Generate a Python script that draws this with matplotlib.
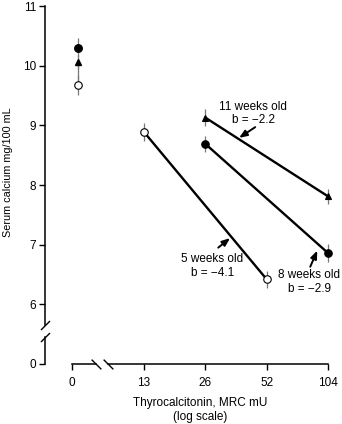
import numpy as np
import matplotlib
matplotlib.use('Agg')
import matplotlib.pyplot as plt
from matplotlib.ticker import FixedLocator, NullLocator
from matplotlib.transforms import ScaledTranslation

plt.rcParams['font.family'] = ['Liberation Sans', 'DejaVu Sans']
plt.rcParams['font.size'] = 8.5

# x ticks, thyrocalcitonin dose (MRC mU)
dose_ticks = [13, 26, 52, 104]

# untreated controls (dose 0): 8, 11 and 5 week old rats
ctrl_ca = [10.30, 10.06, 9.68]
ctrl_err = [0.16, 0.12, 0.17]

# serum calcium (mg/100 mL) after thyrocalcitonin
wk5_dose = [13, 52]
wk5_ca = [8.89, 6.42]
wk5_err = [0.15, 0.14]

wk8_dose = [26, 104]
wk8_ca = [8.69, 6.86]
wk8_err = [0.13, 0.15]

wk11_dose = [26, 104]
wk11_ca = [9.13, 7.81]
wk11_err = [0.14, 0.13]

group_names = ['5 weeks old', '8 weeks old', '11 weeks old']
slopes = [-4.1, -2.9, -2.2]

y_ticks = [0, 6, 7, 8, 9, 10, 11]

# where "0" sits on each broken axis
X_ZERO = 5.77
X_CTRL = 6.17
Y_ZERO = 5.0

ERR_COL = '#777777'

fig = plt.figure(figsize=(3.42, 4.24), dpi=100)
ax = fig.add_axes([72/342, 60/424, 256/342, 358/424])
ax.set_xscale('log', base=2)
ax.set_xlim(X_ZERO, 104)
ax.set_ylim(Y_ZERO, 11)

def group(xs, ys, errs, marker, face, ms):
  ax.errorbar(xs, ys, yerr=errs, fmt='none', ecolor=ERR_COL, elinewidth=0.9,
              capsize=0, zorder=1, clip_on=False)
  ax.plot(xs, ys, ls='none', marker=marker, mfc=face, mec='black', mew=0.8,
          ms=ms, zorder=3, clip_on=False)

# controls share one vertical bar
cx = [X_CTRL]*3
ax.errorbar(cx, ctrl_ca, yerr=ctrl_err, fmt='none', ecolor=ERR_COL,
            elinewidth=0.9, capsize=0, zorder=1)
ax.plot(cx[1:3], ctrl_ca[1:3], color=ERR_COL, lw=0.9, zorder=1)
ax.plot(cx[0], ctrl_ca[0], 'o', mfc='black', mec='black', ms=5.4, zorder=3)
ax.plot(cx[1], ctrl_ca[1], '^', mfc='black', mec='black', ms=4.8, zorder=3)
ax.plot(cx[2], ctrl_ca[2], 'o', mfc='white', mec='black', mew=0.8, ms=5.4,
        zorder=3)

for xs, ys in [(wk5_dose, wk5_ca), (wk8_dose, wk8_ca), (wk11_dose, wk11_ca)]:
  ax.plot(xs, ys, color='black', lw=1.7, zorder=2, clip_on=False)

group(wk5_dose, wk5_ca, wk5_err, 'o', 'white', 5.4)
group(wk8_dose, wk8_ca, wk8_err, 'o', 'black', 5.4)
group(wk11_dose, wk11_ca, wk11_err, '^', 'black', 4.8)

# labels with arrows onto the lines
notes = [(28.1, 6.645, (30.1, 6.95), (34.4, 7.11)),
         (84.0, 6.38, (85.1, 6.63), (92.1, 6.90)),
         (44.7, 9.20, (45.7, 8.97), (38.1, 8.79))]
for name, b, (tx, ty, tail, tip) in zip(group_names, slopes, notes):
  txt = '{}\nb = {:.1f}'.format(name, b).replace('-', '\u2212')
  ax.text(tx, ty, txt, ha='center', va='center', ma='center',
          linespacing=1.2, zorder=4)
  ax.annotate('', xy=tip, xytext=tail,
              arrowprops=dict(arrowstyle='-|>,head_length=0.55,head_width=0.22',
                              color='black', lw=1.4, shrinkA=0, shrinkB=0))

# axes, ticks
for side in ['top', 'right']:
  ax.spines[side].set_visible(False)
ax.spines['left'].set_position(('outward', 19.44))
ax.spines['left'].set_bounds(5.65, 11)
ax.spines['bottom'].set_bounds(8.7, 104)
for side in ['left', 'bottom']:
  ax.spines[side].set_linewidth(1.1)

ax.xaxis.set_major_locator(FixedLocator([X_ZERO] + dose_ticks))
ax.xaxis.set_minor_locator(NullLocator())
ax.set_xticklabels(['0'] + [str(d) for d in dose_ticks])
ax.set_yticks([Y_ZERO] + y_ticks[1:])
ax.set_yticklabels([str(v) for v in y_ticks])
ax.tick_params(axis='x', length=4, width=1.0, pad=5)
ax.tick_params(axis='y', length=4.5, width=1.0, pad=2)

# broken axis pieces and slashes
ytrans = ax.get_yaxis_transform() + ScaledTranslation(-0.27, 0, fig.dpi_scale_trans)
ax.plot([0, 0], [Y_ZERO, 5.45], color='black', lw=1.1, transform=ytrans,
        clip_on=False)
ax.plot([0, 0], [5.65, 5.45], ls='none', marker=[(-1, -1), (1, 1)], ms=6.5,
        mec='black', mew=1.0, transform=ytrans, clip_on=False)
xtrans = ax.get_xaxis_transform()
ax.plot([X_ZERO, 7.6], [0, 0], color='black', lw=1.1, transform=xtrans,
        clip_on=False)
ax.plot([7.6, 8.7], [0, 0], ls='none', marker=[(-1, 1), (1, -1)], ms=7,
        mec='black', mew=1.0, transform=xtrans, clip_on=False)

ax.set_xlabel('Thyrocalcitonin, MRC mU\n(log scale)', labelpad=6,
              linespacing=1.25)
ax.set_ylabel('Serum calcium mg/100 mL', fontsize=7.8)
ax.yaxis.set_label_coords(-0.23, 0.536)

fig.savefig('out.png', dpi=100)
